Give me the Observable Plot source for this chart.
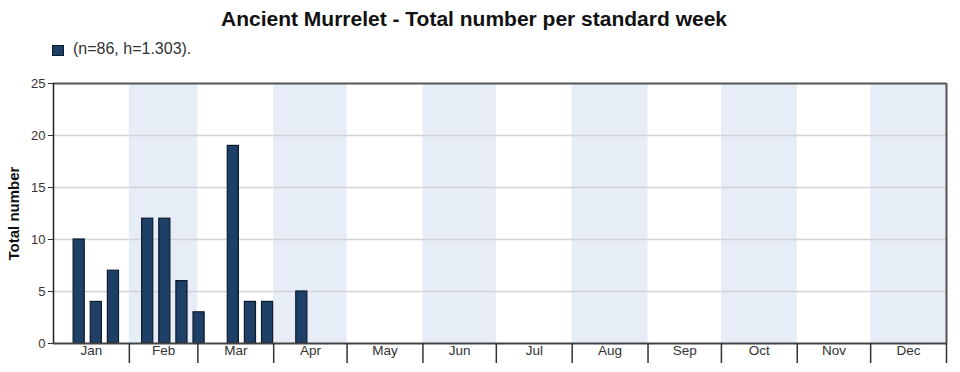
<!DOCTYPE html>
<html>
<head>
<meta charset="utf-8">
<script src="https://cdn.jsdelivr.net/npm/d3@7"></script>
<script src="https://cdn.jsdelivr.net/npm/@observablehq/plot@0.6"></script>
<style>
  body { margin: 0; background: #fff; font-family: "Liberation Sans", Arial, sans-serif; }
  #title { width: 948px; height: 34px; padding-top: 2px; line-height: 34px; text-align: center;
           font-size: 21px; font-weight: bold; color: #111; }
  #legend { position: relative; height: 24px; }
  #legend .sw { position: absolute; left: 52px; top: 9px; width: 10px; height: 9px;
                background: #1e3f66; border: 1px solid #0d1b2e; }
  #legend .tx { position: absolute; left: 73px; top: 3px; line-height: 20px; font-size: 16px; color: #333; }
  #chart svg { display: block; }
</style>
</head>
<body>
<div id="title">Ancient Murrelet - Total number per standard week</div>
<div id="legend"><span class="sw"></span><span class="tx">(n=86, h=1.303).</span></div>
<div id="chart"></div>
<script>
// ---- data ----
const months = ["Jan","Feb","Mar","Apr","May","Jun","Jul","Aug","Sep","Oct","Nov","Dec"];
const monthLengths = [31,28,31,30,31,30,31,31,30,31,30,31];
const shadedMonths = ["Feb","Apr","Jun","Aug","Oct","Dec"];
const weeks  = [1,2,3,4,5,6,7,8,9,10,11,12,13,14,15];
const totals = [0,10,4,7,0,12,12,6,3,0,19,4,4,0,5];
const yTicks = [0,5,10,15,20,25];
const gridValues = [5,10,15,20];
const legendText = "(n=86, h=1.303).";

// ---- derived tables ----
const monthTable = [];
let acc = 0;
months.forEach((m, i) => {
  monthTable.push({month: m, start: acc, end: acc + monthLengths[i], mid: acc + monthLengths[i] / 2});
  acc += monthLengths[i];
});
const yearDays = acc;
const bounds = monthTable.map(d => d.end);
const weekTable = weeks.map((w, i) => ({week: w, start: (w - 1) * 7, end: w * 7, total: totals[i]}))
  .filter(d => d.total > 0);

const chart = Plot.plot({
  width: 960,
  height: 312,
  marginTop: 23,
  marginBottom: 29,
  marginLeft: 53,
  marginRight: 14,
  style: {fontFamily: "Liberation Sans, Arial, sans-serif", fontSize: "13px", color: "#333", background: "#fff"},
  x: {domain: [0, yearDays], axis: null},
  y: {domain: [0, 25], axis: null},
  marks: [
    Plot.rect(monthTable.filter(d => shadedMonths.includes(d.month)),
      {x1: "start", x2: "end", y1: 0, y2: 25, fill: "#e7edf7"}),
    Plot.ruleY(gridValues, {stroke: "#d3d3d3", strokeWidth: 1.3}),
    Plot.rectY(weekTable, {x1: "start", x2: "end", y: "total", insetLeft: 3, insetRight: 3,
      fill: "#1e3f66", stroke: "#0d1b2e", strokeWidth: 1.2}),
    Plot.ruleY([25], {stroke: "#555", strokeWidth: 2}),
    Plot.ruleX([yearDays], {y1: 0, y2: 25, stroke: "#555", strokeWidth: 2}),
    Plot.ruleY([0], {stroke: "#444", strokeWidth: 2}),
    Plot.ruleX([0], {y1: 0, y2: 25, stroke: "#222", strokeWidth: 1.5}),
    Plot.axisY({ticks: yTicks, tickSize: 5, tickPadding: 3, stroke: "#333", fontSize: 13, label: null}),
    Plot.axisX({ticks: bounds, tickSize: 20, tickFormat: () => "", stroke: "#333", strokeWidth: 1.5, label: null}),
    Plot.text(monthTable, {x: "mid", text: "month", frameAnchor: "bottom", dy: 11, fontSize: 13.5, fill: "#333"}),
    Plot.text(["Total number"], {frameAnchor: "left", textAnchor: "middle", dx: -39, rotate: -90,
      fontWeight: "bold", fontSize: 15, fill: "#111"})
  ]
});
document.getElementById("chart").appendChild(chart);
</script>
</body>
</html>
